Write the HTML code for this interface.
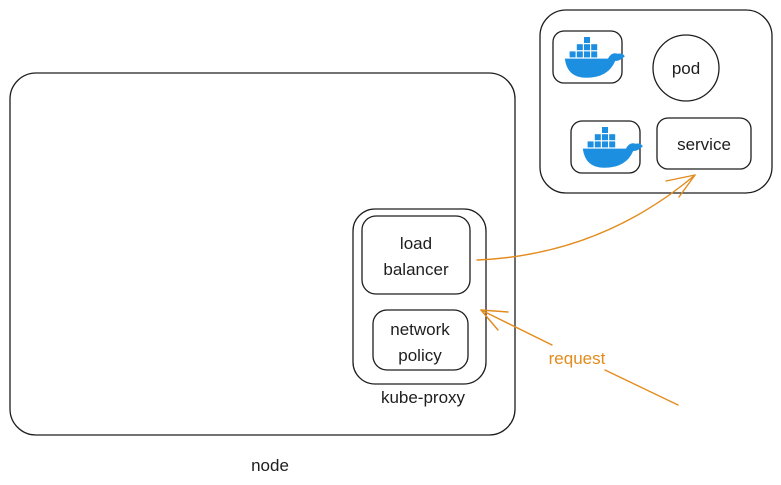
<!DOCTYPE html>
<html><head><meta charset="utf-8"><style>
html,body{margin:0;padding:0;background:#fff;}
svg{display:block}
text{font-family:"Liberation Sans",sans-serif;fill:#1e1e1e}
</style></head><body>
<svg width="781" height="485" viewBox="0 0 781 485" xmlns="http://www.w3.org/2000/svg">
<defs>
<g id="whale">
  <rect x="10" y="0" width="5" height="5" fill="#1d8fe1"/>
  <rect x="4" y="6" width="5" height="5" fill="#1d8fe1"/>
  <rect x="10" y="6" width="5" height="5" fill="#1d8fe1"/>
  <rect x="16" y="6" width="5" height="5" fill="#1d8fe1"/>
  <rect x="-2" y="12" width="5" height="5" fill="#1d8fe1"/>
  <rect x="4" y="12" width="5" height="5" fill="#1d8fe1"/>
  <rect x="10" y="12" width="5" height="5" fill="#1d8fe1"/>
  <rect x="16" y="12" width="5" height="5" fill="#1d8fe1"/>
  <path d="M-6 18 L30 18 Q33 12 38 14 Q42 13 44 16 Q40 20 36 20 Q30 34 12 34 Q-4 34 -6 18 Z" fill="#1d8fe1"/>
</g>
</defs>
<g fill="none" stroke="#1e1e1e" stroke-width="1.3">
  <rect x="10" y="73" width="505" height="362" rx="26"/>
  <rect x="353" y="209" width="133" height="175" rx="22"/>
  <rect x="362" y="216" width="108" height="78" rx="14"/>
  <rect x="373" y="310" width="95" height="60" rx="14"/>
  <rect x="540" y="10" width="232" height="183" rx="26"/>
  <rect x="553" y="31" width="69" height="52" rx="11"/>
  <circle cx="686" cy="68" r="33"/>
  <rect x="571" y="121" width="69" height="52" rx="11"/>
  <rect x="657" y="118" width="94" height="51" rx="11"/>
</g>
<g transform="translate(572,37) scale(1.2)"><use href="#whale"/></g>
<g transform="translate(590,127) scale(1.2)"><use href="#whale"/></g>
<g fill="none" stroke="#e38b1d" stroke-width="1.4" stroke-linecap="round">
  <path d="M477 260 Q600 255 695 175"/>
  <path d="M695 175 L666 181 M695 175 L679 197"/>
  <path d="M552 345 L481 310"/>
  <path d="M481 310 L508 312 M481 310 L498 330"/>
  <path d="M605 370 L678 405"/>
</g>
<g font-size="17" text-anchor="middle">
  <text x="416" y="249">load</text>
  <text x="416" y="275">balancer</text>
  <text x="420" y="335">network</text>
  <text x="420" y="361">policy</text>
  <text x="423" y="403">kube-proxy</text>
  <text x="270" y="471">node</text>
  <text x="686" y="74">pod</text>
  <text x="704" y="150">service</text>
  <text x="577" y="364" style="fill:#e38b1d">request</text>
</g>
</svg>
</body></html>
